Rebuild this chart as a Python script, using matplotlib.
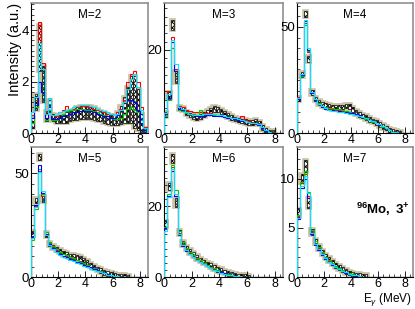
# encoding="utf-8"
# gamma spectra for 96Mo, one panel per multiplicity

import matplotlib
matplotlib.use("Agg")
import matplotlib.pyplot as plt
from matplotlib.ticker import MultipleLocator, AutoMinorLocator
import numpy as np

plt.rcParams['font.family'] = ['Liberation Sans', 'DejaVu Sans']
plt.rcParams['mathtext.fontset'] = 'custom'
plt.rcParams['mathtext.rm'] = 'Liberation Sans'
plt.rcParams['mathtext.bf'] = 'Liberation Sans:bold'
plt.rcParams['mathtext.it'] = 'Liberation Sans:italic'
plt.rcParams['hatch.linewidth'] = 0.7

# bin edges (MeV), 0.25 MeV bins
edges = np.arange(0, 8.51, 0.25)

# ---- M=2 ----
exp2 = [0.4, 1.2, 3.3, 1.9, 0.65, 1.05, 0.6, 0.55, 0.55, 0.55, 0.6, 0.65, 0.7, 0.75, 0.8, 0.8, 0.8, 0.8,
        0.75, 0.7, 0.65, 0.6, 0.55, 0.5, 0.5, 0.55, 0.7, 0.9, 1.1, 1.3, 1.2, 0.9, 0.4, 0.1]
err2 = [0.2, 0.3, 0.9, 0.7, 0.2, 0.25, 0.15, 0.15, 0.15, 0.15, 0.2, 0.2, 0.2, 0.25, 0.25, 0.25, 0.25, 0.25,
        0.25, 0.25, 0.2, 0.2, 0.2, 0.2, 0.2, 0.25, 0.35, 0.5, 0.7, 0.9, 1.0, 0.8, 0.35, 0.1]
red2 = [0.7, 1.3, 4.3, 2.7, 0.8, 1.3, 0.7, 0.65, 0.8, 0.9, 1.05, 0.95, 0.95, 1.0, 1.0, 1.05, 1.05, 1.0,
        0.95, 0.9, 0.85, 0.8, 0.75, 0.75, 0.7, 0.8, 0.95, 1.3, 2.0, 2.3, 2.4, 2.0, 1.0, 0.25]
green2 = [0.4, 1.0, 2.0, 1.6, 0.5, 0.9, 0.5, 0.5, 0.6, 0.75, 0.85, 0.9, 0.9, 0.95, 0.95, 0.95, 0.9, 0.9,
          0.85, 0.8, 0.75, 0.7, 0.65, 0.6, 0.55, 0.55, 0.6, 0.75, 0.95, 1.0, 0.9, 0.8, 0.5, 0.1]
blue2 = [0.6, 1.1, 2.0, 1.6, 0.6, 1.0, 0.55, 0.55, 0.6, 0.65, 0.7, 0.75, 0.8, 0.8, 0.85, 0.85, 0.85, 0.85,
         0.8, 0.75, 0.7, 0.65, 0.65, 0.6, 0.6, 0.7, 0.9, 1.2, 1.3, 1.3, 1.2, 0.9, 0.4, 0.1]
cyan2 = [0.8, 1.4, 3.5, 2.5, 0.75, 1.35, 0.7, 0.7, 0.8, 0.85, 0.9, 0.95, 1.0, 1.05, 1.1, 1.1, 1.1, 1.05,
         1.0, 0.95, 0.9, 0.85, 0.8, 0.75, 0.7, 0.75, 0.9, 1.2, 1.7, 2.1, 2.3, 1.8, 0.9, 0.2]

# ---- M=3 ----
exp3 = [4.5, 9.0, 26.0, 13.5, 6.0, 5.8, 4.8, 4.3, 4.0, 3.8, 4.0, 4.5, 5.0, 5.5, 5.8, 5.6, 5.2, 4.7,
        4.2, 3.8, 3.4, 3.1, 2.9, 2.7, 2.5, 2.5, 2.7, 2.4, 1.4, 0.6, 0.15, 0.05, 0.0, 0.0]
err3 = [0.5, 0.8, 1.2, 1.5, 0.5, 0.4, 0.4, 0.4, 0.4, 0.4, 0.4, 0.5, 0.6, 0.6, 0.7, 0.6, 0.5, 0.4,
        0.4, 0.4, 0.4, 0.3, 0.3, 0.3, 0.3, 0.3, 0.3, 0.3, 0.3, 0.2, 0.1, 0.05, 0.0, 0.0]
red3 = [5.0, 10.0, 23.0, 15.5, 6.5, 6.3, 5.6, 5.2, 5.0, 5.1, 5.0, 4.9, 4.8, 4.7, 4.5, 4.3, 4.1, 3.9,
        3.7, 3.5, 3.4, 3.3, 4.0, 3.2, 2.8, 2.6, 2.4, 2.2, 1.4, 0.6, 0.2, 0.05, 0.0, 0.0]
green3 = [4.2, 8.0, 20.5, 15.0, 5.5, 5.3, 4.8, 4.6, 4.5, 4.4, 5.5, 4.6, 4.6, 4.5, 4.4, 4.3, 4.2, 4.0,
          3.8, 3.6, 3.4, 3.2, 3.0, 2.8, 2.6, 2.4, 2.3, 2.0, 1.2, 0.5, 0.15, 0.05, 0.0, 0.0]
blue3 = [4.5, 8.5, 22.0, 15.0, 5.8, 5.5, 5.0, 4.6, 4.3, 4.2, 4.2, 4.2, 4.3, 4.3, 4.2, 4.1, 4.0, 3.9,
         3.7, 3.5, 3.4, 3.2, 3.0, 2.9, 2.7, 2.5, 2.3, 2.0, 1.3, 0.5, 0.15, 0.05, 0.0, 0.0]
cyan3 = [4.8, 9.5, 22.5, 16.5, 6.2, 5.8, 5.0, 4.5, 4.3, 4.3, 4.4, 4.5, 4.6, 4.6, 4.5, 4.4, 4.3, 4.1,
         3.9, 3.7, 3.5, 3.3, 3.1, 2.9, 2.7, 2.5, 2.3, 2.1, 1.5, 0.7, 0.2, 0.05, 0.0, 0.0]

# ---- M=4 ----
exp4 = [16.0, 27.5, 56.0, 35.0, 19.0, 16.0, 14.5, 13.5, 13.0, 12.5, 12.0, 12.0, 12.0, 12.3, 12.7, 12.5, 11.0, 9.8,
        8.8, 8.0, 7.2, 6.4, 5.6, 4.8, 4.0, 3.2, 2.3, 1.4, 0.6, 0.2, 0.05, 0.0, 0.0, 0.0]
err4 = [0.8, 1.0, 1.5, 1.5, 0.8, 0.6, 0.5, 0.5, 0.5, 0.5, 0.5, 0.5, 0.6, 0.8, 1.0, 0.9, 0.6, 0.5,
        0.5, 0.5, 0.4, 0.4, 0.4, 0.4, 0.4, 0.4, 0.3, 0.3, 0.2, 0.1, 0.05, 0.0, 0.0, 0.0]
red4 = [17.0, 28.0, 52.0, 38.0, 19.5, 16.0, 14.0, 12.8, 12.0, 11.5, 11.2, 11.0, 10.8, 10.5, 10.2, 9.8, 9.3, 8.8,
        8.2, 7.6, 7.0, 6.3, 5.6, 4.8, 4.0, 3.2, 2.3, 1.4, 0.6, 0.2, 0.05, 0.0, 0.0, 0.0]
green4 = [16.5, 27.0, 51.0, 38.5, 19.0, 15.8, 14.0, 12.8, 12.2, 12.0, 11.8, 11.5, 11.2, 10.8, 10.3, 9.8, 9.3, 8.7,
          8.1, 7.5, 6.8, 6.1, 5.4, 4.6, 3.8, 3.0, 2.2, 1.3, 0.5, 0.15, 0.05, 0.0, 0.0, 0.0]
blue4 = [16.0, 27.5, 53.0, 39.0, 19.0, 15.5, 13.5, 12.3, 11.5, 11.0, 10.7, 10.4, 10.2, 10.0, 9.8, 9.5, 9.2, 8.8,
         8.3, 7.7, 7.0, 6.3, 5.5, 4.7, 3.9, 3.1, 2.3, 1.4, 0.6, 0.2, 0.05, 0.0, 0.0, 0.0]
cyan4 = [16.5, 28.0, 53.5, 40.0, 19.5, 15.8, 13.8, 12.5, 11.6, 11.0, 10.6, 10.3, 10.0, 9.7, 9.4, 9.1, 8.8, 8.5,
         8.0, 7.5, 6.9, 6.3, 5.6, 4.9, 4.1, 3.3, 2.5, 1.6, 0.7, 0.25, 0.05, 0.0, 0.0, 0.0]

# ---- M=5 ----
exp5 = [21.0, 37.0, 58.0, 37.5, 20.5, 16.0, 14.5, 13.5, 12.5, 11.5, 10.8, 10.2, 9.8, 9.4, 9.0, 8.2, 7.0, 5.8,
        4.8, 3.8, 3.0, 2.3, 1.6, 1.1, 0.7, 0.4, 0.2, 0.1, 0.05, 0.0, 0.0, 0.0, 0.0, 0.0]
err5 = [1.0, 1.2, 1.5, 1.5, 0.8, 0.6, 0.5, 0.5, 0.5, 0.5, 0.5, 0.5, 0.6, 0.7, 0.8, 0.7, 0.5, 0.4,
        0.3, 0.3, 0.3, 0.2, 0.2, 0.15, 0.1, 0.1, 0.05, 0.05, 0.0, 0.0, 0.0, 0.0, 0.0, 0.0]
red5 = [19.0, 34.5, 51.0, 39.0, 21.0, 16.5, 14.5, 13.0, 12.0, 11.0, 10.2, 9.5, 8.8, 8.0, 7.2, 6.4, 5.6, 4.8,
        4.0, 3.3, 2.6, 2.0, 1.5, 1.0, 0.6, 0.35, 0.2, 0.1, 0.05, 0.0, 0.0, 0.0, 0.0, 0.0]
green5 = [18.0, 33.0, 52.0, 40.0, 21.5, 17.0, 15.0, 13.5, 12.3, 11.3, 10.5, 9.7, 9.0, 8.2, 7.4, 6.6, 5.8, 5.0,
          4.2, 3.4, 2.7, 2.1, 1.5, 1.0, 0.6, 0.35, 0.2, 0.1, 0.05, 0.0, 0.0, 0.0, 0.0, 0.0]
blue5 = [19.5, 35.0, 54.0, 40.5, 21.0, 16.0, 14.0, 12.5, 11.3, 10.3, 9.5, 8.8, 8.1, 7.4, 6.7, 6.0, 5.3, 4.6,
         3.9, 3.2, 2.6, 2.0, 1.5, 1.0, 0.6, 0.35, 0.2, 0.1, 0.05, 0.0, 0.0, 0.0, 0.0, 0.0]
cyan5 = [19.0, 34.0, 50.5, 41.5, 20.5, 15.5, 13.5, 12.0, 10.8, 9.8, 9.0, 8.2, 7.5, 6.8, 6.1, 5.4, 4.7, 4.0,
         3.4, 2.8, 2.2, 1.7, 1.2, 0.8, 0.5, 0.3, 0.15, 0.1, 0.05, 0.0, 0.0, 0.0, 0.0, 0.0]

# ---- M=6 ----
exp6 = [15.0, 25.5, 33.5, 21.0, 12.5, 9.5, 8.2, 7.2, 6.3, 5.5, 4.8, 4.2, 3.7, 3.2, 2.7, 2.2, 1.8, 1.4,
        1.0, 0.7, 0.45, 0.3, 0.15, 0.08, 0.03, 0.0, 0.0, 0.0, 0.0, 0.0, 0.0, 0.0, 0.0, 0.0]
err6 = [0.8, 1.0, 1.2, 1.2, 0.6, 0.5, 0.4, 0.4, 0.3, 0.3, 0.3, 0.3, 0.3, 0.3, 0.25, 0.2, 0.2, 0.15,
        0.1, 0.1, 0.05, 0.05, 0.05, 0.0, 0.0, 0.0, 0.0, 0.0, 0.0, 0.0, 0.0, 0.0, 0.0, 0.0]
red6 = [13.5, 23.0, 31.0, 23.5, 12.5, 9.3, 7.8, 6.8, 6.0, 5.2, 4.5, 3.9, 3.3, 2.8, 2.3, 1.8, 1.4, 1.1,
        0.8, 0.55, 0.35, 0.2, 0.1, 0.05, 0.02, 0.0, 0.0, 0.0, 0.0, 0.0, 0.0, 0.0, 0.0, 0.0]
green6 = [14.0, 23.5, 31.5, 24.5, 13.0, 9.8, 8.2, 7.0, 6.2, 5.4, 4.7, 4.0, 3.4, 2.9, 2.4, 1.9, 1.5, 1.1,
          0.8, 0.55, 0.35, 0.2, 0.1, 0.05, 0.02, 0.0, 0.0, 0.0, 0.0, 0.0, 0.0, 0.0, 0.0, 0.0]
blue6 = [13.8, 23.0, 30.0, 23.0, 12.0, 8.8, 7.3, 6.4, 5.6, 4.9, 4.2, 3.6, 3.1, 2.6, 2.1, 1.7, 1.3, 1.0,
         0.7, 0.5, 0.3, 0.2, 0.1, 0.05, 0.02, 0.0, 0.0, 0.0, 0.0, 0.0, 0.0, 0.0, 0.0, 0.0]
cyan6 = [13.0, 22.5, 30.5, 23.5, 12.2, 9.0, 7.5, 6.5, 5.7, 4.9, 4.2, 3.6, 3.0, 2.5, 2.0, 1.6, 1.2, 0.9,
         0.65, 0.45, 0.3, 0.2, 0.1, 0.05, 0.02, 0.0, 0.0, 0.0, 0.0, 0.0, 0.0, 0.0, 0.0, 0.0]

# ---- M=7 ----
exp7 = [6.5, 10.0, 11.3, 7.5, 4.6, 3.6, 3.0, 2.5, 2.1, 1.75, 1.45, 1.2, 0.95, 0.75, 0.55, 0.42, 0.3, 0.2,
        0.12, 0.07, 0.03, 0.0, 0.0, 0.0, 0.0, 0.0, 0.0, 0.0, 0.0, 0.0, 0.0, 0.0, 0.0, 0.0]
err7 = [0.4, 0.5, 0.6, 0.5, 0.3, 0.25, 0.2, 0.2, 0.15, 0.15, 0.12, 0.1, 0.1, 0.08, 0.06, 0.05, 0.04, 0.03,
        0.02, 0.01, 0.01, 0.0, 0.0, 0.0, 0.0, 0.0, 0.0, 0.0, 0.0, 0.0, 0.0, 0.0, 0.0, 0.0]
red7 = [6.2, 9.5, 10.5, 8.2, 4.6, 3.5, 2.9, 2.4, 2.0, 1.65, 1.35, 1.1, 0.85, 0.65, 0.5, 0.37, 0.26, 0.17,
        0.1, 0.05, 0.02, 0.0, 0.0, 0.0, 0.0, 0.0, 0.0, 0.0, 0.0, 0.0, 0.0, 0.0, 0.0, 0.0]
green7 = [6.3, 9.6, 10.8, 8.6, 4.8, 3.7, 3.0, 2.5, 2.05, 1.7, 1.4, 1.12, 0.88, 0.68, 0.5, 0.37, 0.26, 0.17,
          0.1, 0.05, 0.02, 0.0, 0.0, 0.0, 0.0, 0.0, 0.0, 0.0, 0.0, 0.0, 0.0, 0.0, 0.0, 0.0]
blue7 = [5.9, 9.0, 10.0, 8.0, 4.4, 3.3, 2.7, 2.25, 1.85, 1.5, 1.25, 1.0, 0.8, 0.6, 0.45, 0.33, 0.23, 0.15,
         0.09, 0.05, 0.02, 0.0, 0.0, 0.0, 0.0, 0.0, 0.0, 0.0, 0.0, 0.0, 0.0, 0.0, 0.0, 0.0]
cyan7 = [6.0, 9.2, 10.3, 8.5, 4.5, 3.4, 2.8, 2.3, 1.9, 1.55, 1.28, 1.03, 0.82, 0.63, 0.47, 0.35, 0.25, 0.16,
         0.1, 0.05, 0.02, 0.0, 0.0, 0.0, 0.0, 0.0, 0.0, 0.0, 0.0, 0.0, 0.0, 0.0, 0.0, 0.0]

panels = [
    ("M=2", exp2, err2, [red2, green2, blue2, cyan2], 5.05, 2, 10),
    ("M=3", exp3, err3, [red3, green3, blue3, cyan3], 31.3, 20, 10),
    ("M=4", exp4, err4, [red4, green4, blue4, cyan4], 61.3, 50, 10),
    ("M=5", exp5, err5, [red5, green5, blue5, cyan5], 62.8, 50, 10),
    ("M=6", exp6, err6, [red6, green6, blue6, cyan6], 36.7, 20, 10),
    ("M=7", exp7, err7, [red7, green7, blue7, cyan7], 13.2, 5, 5),
]
model_colors = ['#ff0000', '#00cc00', '#0000ff', '#00e5ff']

W, H = 415, 309
fig = plt.figure(figsize=(W / 100, H / 100), dpi=100)

# panel boxes in pixels: left, top, right, bottom
lefts = [31, 164, 297]
rights = [148, 283, 413]
tops = [3, 147]
bottoms = [133, 277]

centers = 0.5 * (edges[:-1] + edges[1:])
width = edges[1] - edges[0]

for k, (name, exp, err, models, ymax, ymaj, nmin) in enumerate(panels):
    r, c = divmod(k, 3)
    ax = fig.add_axes([lefts[c] / W, 1 - bottoms[r] / H,
                       (rights[c] - lefts[c]) / W, (bottoms[r] - tops[r]) / H])
    exp = np.array(exp)
    err = np.array(err)
    keep = exp > 0
    # boxes at least a few pixels tall so the small errors stay visible
    half = np.maximum(err, 0.018 * ymax)
    lo = exp - half
    # systematic band (tan halo) and hatched data boxes
    ax.bar(centers[keep], 2 * half[keep], bottom=lo[keep], width=width,
           facecolor='#c9c2a6', edgecolor='#c9c2a6', lw=2.6, zorder=1)
    ax.bar(centers[keep], 2 * half[keep], bottom=lo[keep], width=width * 0.8,
           facecolor='white', edgecolor='black', hatch='xxxxxx', lw=0.5, zorder=2)
    for vals, col in zip(models, model_colors):
        ax.stairs(vals, edges, color=col, lw=0.8, zorder=3)

    ax.set_xlim(0, 8.6)
    ax.set_ylim(0, ymax)
    ax.xaxis.set_major_locator(MultipleLocator(2))
    ax.xaxis.set_minor_locator(MultipleLocator(0.4))
    ax.yaxis.set_major_locator(MultipleLocator(ymaj))
    ax.yaxis.set_minor_locator(AutoMinorLocator(nmin))
    ax.tick_params(which='both', direction='in', top=False, right=False, labelsize=9.5, pad=1.5)
    ax.tick_params(axis='x', labelsize=9, pad=1)
    ax.tick_params(which='major', length=4, width=0.6)
    ax.tick_params(which='minor', length=2, width=0.5)
    for s in ['top', 'right']:
        ax.spines[s].set_color('#909090')
        ax.spines[s].set_linewidth(1.2)
    for s in ['left', 'bottom']:
        ax.spines[s].set_linewidth(0.8)
    ax.text(0.5, 0.91, name, transform=ax.transAxes, fontsize=8.5, ha='center', va='center')

    if k == 0:
        ax.set_ylabel('Intensity (a.u.)', fontsize=10.5, loc='top', labelpad=0)
    if k == 5:
        ax.text(0.97, 0.52, r'$\mathbf{^{96}Mo,\ 3^{+}}$', transform=ax.transAxes,
                fontsize=9.5, ha='right', va='center')

fig.text(412 / W, 1 - 308 / H, r'E$_{\gamma}$ (MeV)', fontsize=8.5, ha='right', va='bottom')

fig.savefig('out.png', dpi=100)
